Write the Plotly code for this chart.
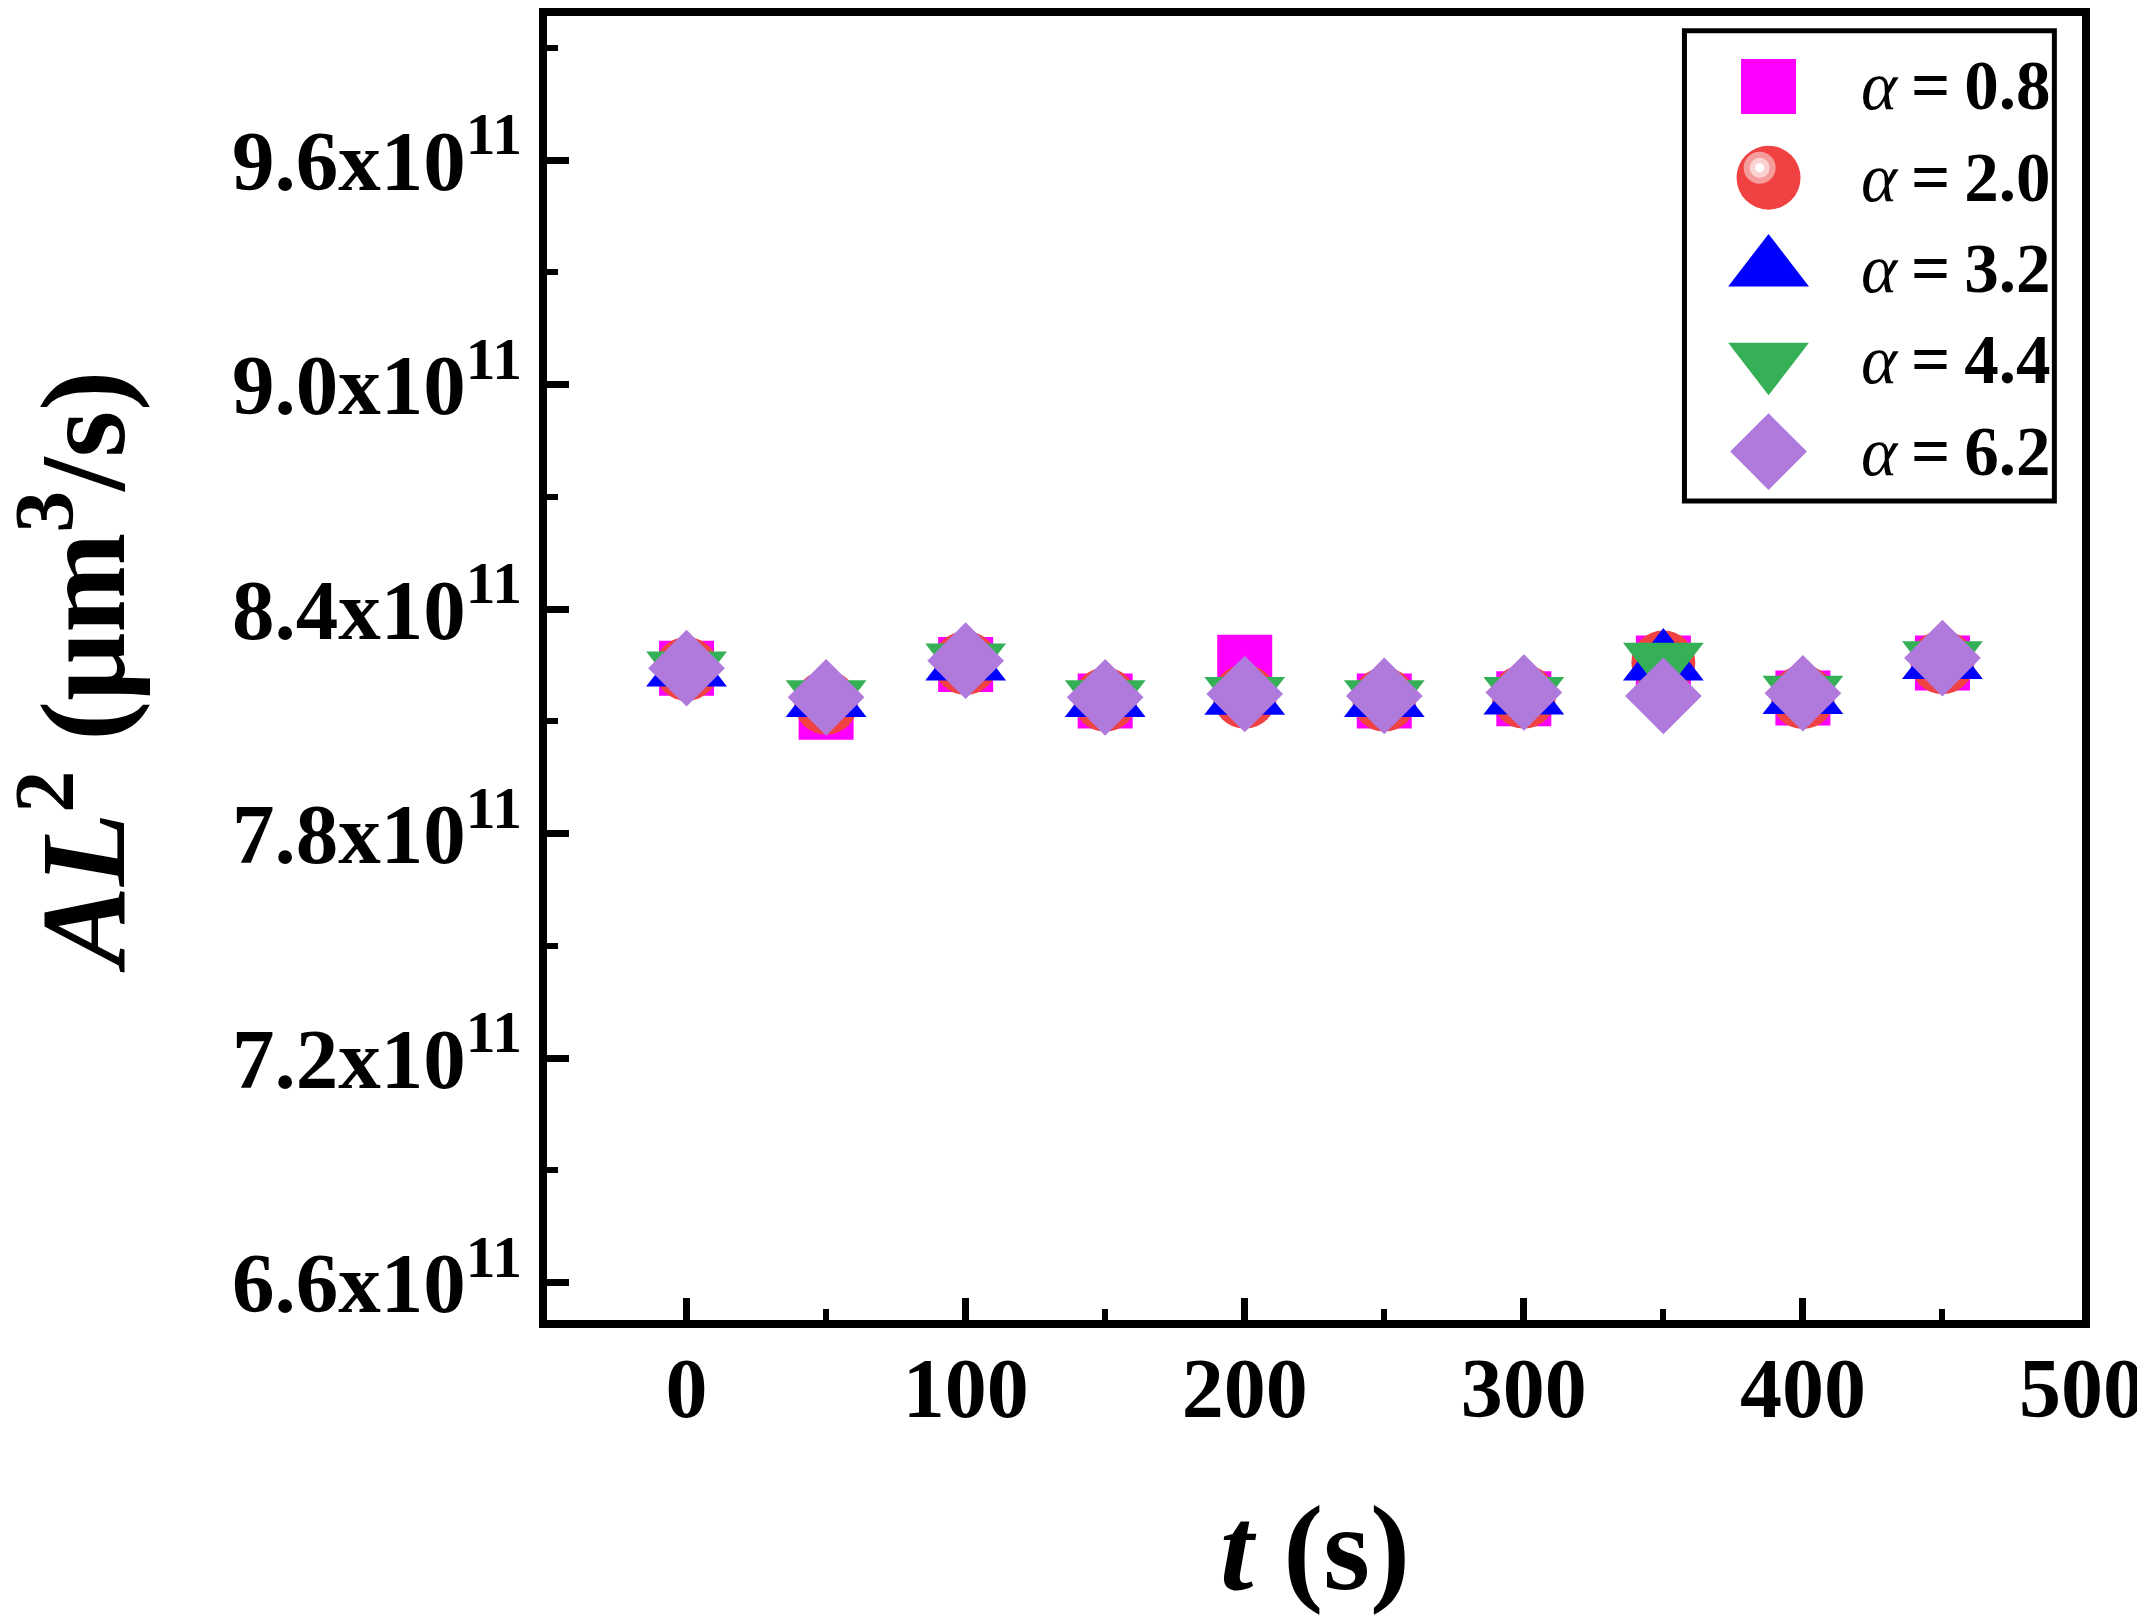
import plotly.graph_objects as go

# time points (s)
t = [0, 50, 100, 150, 200, 250, 300, 350, 400, 450]

# AL^2 (um^3/s) for each alpha
al2_a08 = [8.242e11, 8.124e11, 8.252e11, 8.154e11, 8.258e11, 8.154e11, 8.160e11, 8.256e11, 8.162e11, 8.256e11]
al2_a20 = [8.240e11, 8.150e11, 8.256e11, 8.158e11, 8.166e11, 8.158e11, 8.166e11, 8.257e11, 8.165e11, 8.258e11]
al2_a32 = [8.240e11, 8.158e11, 8.256e11, 8.158e11, 8.164e11, 8.158e11, 8.165e11, 8.256e11, 8.166e11, 8.260e11]
al2_a44 = [8.240e11, 8.163e11, 8.261e11, 8.163e11, 8.172e11, 8.163e11, 8.172e11, 8.263e11, 8.175e11, 8.267e11]
al2_a62 = [8.242e11, 8.164e11, 8.262e11, 8.164e11, 8.173e11, 8.168e11, 8.177e11, 8.168e11, 8.175e11, 8.269e11]

alpha_labels = ["0.8", "2.0", "3.2", "4.4", "6.2"]

ytick_vals = [6.6e11, 7.2e11, 7.8e11, 8.4e11, 9.0e11, 9.6e11]
ytick_text = ["6.6x10<sup>11</sup>", "7.2x10<sup>11</sup>", "7.8x10<sup>11</sup>",
              "8.4x10<sup>11</sup>", "9.0x10<sup>11</sup>", "9.6x10<sup>11</sup>"]
yminor_vals = [6.9e11, 7.5e11, 8.1e11, 8.7e11, 9.3e11, 9.9e11]

# marker styles, in drawing order
series = [al2_a08, al2_a20, al2_a32, al2_a44, al2_a62]
symbols = ["square", "circle", "triangle-up", "triangle-down", "diamond"]
colors = ["#FF00FF", "#F04242", "#0000FF", "#36B057", "#B07ADC"]
sizes = [55, 64, 70, 70, 59]

FONT = "Liberation Serif, Times New Roman, Times, serif"

fig = go.Figure()

for ys, sym, col, sz in zip(series, symbols, colors, sizes):
    fig.add_trace(go.Scatter(
        x=t, y=ys, mode="markers",
        marker=dict(symbol=sym, color=col, size=sz, line=dict(width=0)),
        showlegend=False
    ))

# hand-made legend (plotly caps legend symbol size)
row_top = 0.946
row_step = 0.07
for i, (sym, col, sz, lab) in enumerate(zip(symbols, colors, sizes, alpha_labels)):
    ry = row_top - i * row_step
    fig.add_trace(go.Scatter(
        x=[0.7958], y=[ry], xaxis="x2", yaxis="y2", mode="markers",
        marker=dict(symbol=sym, color=col, size=sz, line=dict(width=0)),
        showlegend=False, hoverinfo="skip"
    ))
    if sym == "circle":
        # glossy highlight on the ball symbol
        for hs, hc in [(32, "#F59C9C"), (20, "#FBD2D2"), (9, "#FFFFFF")]:
            fig.add_trace(go.Scatter(
                x=[0.7958 - 0.0058], y=[ry + 0.0076], xaxis="x2", yaxis="y2",
                mode="markers", marker=dict(symbol="circle", color=hc, size=hs, line=dict(width=0)),
                showlegend=False, hoverinfo="skip"
            ))
    fig.add_annotation(
        xref="paper", yref="paper", x=0.855, y=ry,
        text="<i>α</i><b>\u2009=\u2009" + lab + "</b>",
        showarrow=False, xanchor="left", yanchor="middle",
        font=dict(family=FONT, size=69, color="black")
    )

fig.add_shape(type="rect", xref="paper", yref="paper",
              x0=0.741, x1=0.982, y0=0.628, y1=0.9886,
              line=dict(color="black", width=5), fillcolor="rgba(0,0,0,0)")

# axis titles
fig.add_annotation(
    xref="paper", yref="paper", x=-0.308, y=0.497, textangle=-90,
    text="<b><i>AL</i><sup>2</sup> (μm<sup>3</sup>/s)</b>",
    showarrow=False, xanchor="center", yanchor="middle",
    font=dict(family=FONT, size=120, color="black")
)
fig.add_annotation(
    xref="paper", yref="paper", x=0.5, y=-0.1755,
    text="<b><i>t</i> (s)</b>",
    showarrow=False, xanchor="center", yanchor="middle",
    font=dict(family=FONT, size=120, color="black")
)

fig.update_xaxes(
    range=[-50, 500], tickmode="linear", tick0=0, dtick=100,
    ticks="inside", ticklen=22, tickwidth=7, tickcolor="black",
    minor=dict(ticks="inside", tick0=50, dtick=100, ticklen=11, tickwidth=6, tickcolor="black"),
    showline=True, linewidth=8, linecolor="black", mirror=True,
    showgrid=False, zeroline=False, ticklabelstandoff=-12, ticklabeloverflow="allow",
    tickfont=dict(family=FONT, size=84, color="black", weight="bold")
)
fig.update_yaxes(
    range=[6.5e11, 9.985e11], tickmode="array", tickvals=ytick_vals, ticktext=ytick_text,
    ticks="inside", ticklen=22, tickwidth=7, tickcolor="black",
    minor=dict(ticks="inside", tickmode="array", tickvals=yminor_vals, ticklen=11, tickwidth=6, tickcolor="black"),
    showline=True, linewidth=8, linecolor="black", mirror=True,
    showgrid=False, zeroline=False,
    tickfont=dict(family=FONT, size=85, color="black", weight="bold")
)

# page body adds 8px, so the figure is 8px smaller than the window
fig.update_layout(
    width=2137, height=1608,
    margin=dict(l=539, r=60, t=0, b=296),
    plot_bgcolor="white", paper_bgcolor="white",
    showlegend=False,
    xaxis2=dict(overlaying="x", anchor="y2", range=[0, 1], visible=False, fixedrange=True),
    yaxis2=dict(overlaying="y", anchor="x2", range=[0, 1], visible=False, fixedrange=True),
)

fig.write_html("out.html")
